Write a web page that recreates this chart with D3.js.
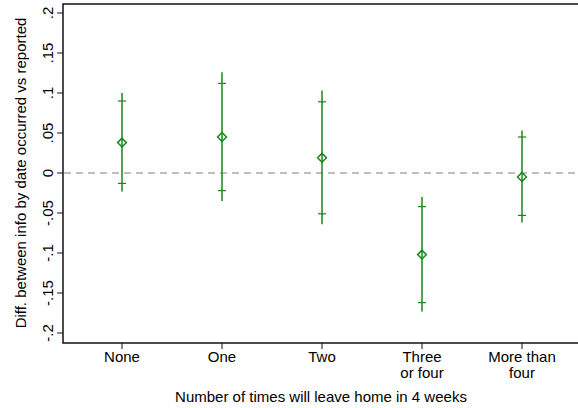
<!DOCTYPE html>
<html>
<head>
<meta charset="utf-8">
<script src="https://cdn.jsdelivr.net/npm/d3@7"></script>
<style>
  body { margin: 0; background: #fff; }
  text { font-family: "Liberation Sans", Arial, sans-serif; fill: #000; }
</style>
</head>
<body>
<div id="chart"></div>
<script>
// categories (two-line tick labels split on \n)
const categories = ['None', 'One', 'Two', 'Three\nor four', 'More than\nfour'];
// point estimates
const estimates = [0.038, 0.045, 0.019, -0.102, -0.005];
// inner (short-capped) interval
const innerLow = [-0.013, -0.022, -0.051, -0.162, -0.053];
const innerHigh = [0.090, 0.112, 0.089, -0.042, 0.045];
// outer interval
const outerLow = [-0.023, -0.035, -0.064, -0.173, -0.062];
const outerHigh = [0.100, 0.126, 0.103, -0.030, 0.053];
const yTicks = [-0.2, -0.15, -0.1, -0.05, 0, 0.05, 0.1, 0.15, 0.2];

const width = 578, height = 408;
const plotLeft = 63, plotTop = 4, plotBottom = 343;
const green = '#168816';
const fontSize = '15px';

const svg = d3.select('#chart').append('svg')
    .attr('width', width)
    .attr('height', height);

const x = d3.scalePoint()
    .domain(categories)
    .range([122, 522]);

const y = d3.scaleLinear()
    .domain([-0.2, 0.2])
    .range([333, 13]);

// Stata-style labels: .2, -.05, 0
const fmt = v => String(v).replace(/^(-?)0\./, '$1.');

// frame: top, left, bottom
svg.append('path')
    .attr('d', `M${width},${plotTop}H${plotLeft}V${plotBottom}H${width}`)
    .attr('stroke', '#111')
    .attr('stroke-width', 1.5)
    .attr('fill', 'none');

// y axis ticks and labels
const yAxis = svg.append('g');
yTicks.forEach(t => {
    yAxis.append('line')
        .attr('x1', 57).attr('x2', plotLeft)
        .attr('y1', y(t)).attr('y2', y(t))
        .attr('stroke', '#111').attr('stroke-width', 1);
    yAxis.append('text')
        .attr('transform', `translate(53,${y(t)}) rotate(-90)`)
        .attr('text-anchor', 'middle')
        .style('font-size', fontSize)
        .text(fmt(t));
});

svg.append('text')
    .attr('transform', `translate(26,${y(0)}) rotate(-90)`)
    .attr('text-anchor', 'middle')
    .style('font-size', fontSize)
    .text('Diff. between info by date occurred vs reported');

// x axis ticks and labels
const xAxis = svg.append('g');
categories.forEach(c => {
    xAxis.append('line')
        .attr('x1', x(c)).attr('x2', x(c))
        .attr('y1', plotBottom).attr('y2', plotBottom + 6)
        .attr('stroke', '#111').attr('stroke-width', 1);
    c.split('\n').forEach((line, i) => {
        xAxis.append('text')
            .attr('x', x(c))
            .attr('y', 362 + i * 16)
            .attr('text-anchor', 'middle')
            .style('font-size', fontSize)
            .text(line);
    });
});

svg.append('text')
    .attr('x', 321)
    .attr('y', 402)
    .attr('text-anchor', 'middle')
    .style('font-size', fontSize)
    .text('Number of times will leave home in 4 weeks');

// zero reference line
svg.append('line')
    .attr('x1', plotLeft + 1).attr('x2', width)
    .attr('y1', y(0)).attr('y2', y(0))
    .attr('stroke', '#aaa')
    .attr('stroke-width', 1.5)
    .attr('stroke-dasharray', '7,5');

// interval marks
const marks = svg.append('g').attr('stroke', green).attr('fill', 'none');
categories.forEach((c, i) => {
    const cx = x(c);
    marks.append('line')
        .attr('x1', cx).attr('x2', cx)
        .attr('y1', y(outerLow[i])).attr('y2', y(outerHigh[i]))
        .attr('stroke-width', 1.5);
    [innerLow[i], innerHigh[i]].forEach(v => {
        marks.append('line')
            .attr('x1', cx - 4).attr('x2', cx + 4)
            .attr('y1', y(v)).attr('y2', y(v))
            .attr('stroke-width', 1.2);
    });
    marks.append('path')
        .attr('d', d3.symbol(d3.symbolDiamond2, 50)())
        .attr('transform', `translate(${cx},${y(estimates[i])})`)
        .attr('stroke-width', 1.5);
});
</script>
</body>
</html>
